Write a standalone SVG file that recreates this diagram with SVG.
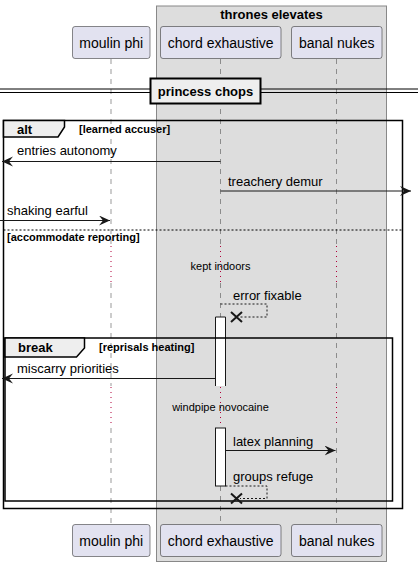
<svg xmlns="http://www.w3.org/2000/svg" width="418" height="566" viewBox="0 0 418 566">
<style>
text{font-family:"Liberation Sans",Arial,sans-serif;fill:#000}
.pbox{fill:#E2E2F0;stroke:#181818;stroke-width:0.5}
.ptxt{font-size:14px;text-anchor:middle}
.life{stroke:#555;stroke-width:0.6;stroke-dasharray:5,5;fill:none}
.delay{stroke:#B0003A;stroke-width:1;stroke-dasharray:1,4;fill:none}
.msg{stroke:#181818;stroke-width:1;fill:none}
.dmsg{stroke:#181818;stroke-width:1;fill:none;stroke-dasharray:2,2}
.mtxt{font-size:13px}
.frame{fill:none;stroke:#000;stroke-width:1.5}
.tab{fill:#EEEEEE;stroke:#000;stroke-width:1.5}
.ftitle{font-size:13px;font-weight:bold}
.cond{font-size:11px;font-weight:bold}
.dtxt{font-size:11px;text-anchor:middle}
.act{fill:#fff;stroke:#181818;stroke-width:1}
.x{stroke:#181818;stroke-width:2}
</style>
<defs>
<marker id="ah" markerWidth="13" markerHeight="11" refX="11" refY="5" orient="auto" markerUnits="userSpaceOnUse">
<polygon points="0,0 11,5 0,10 4,5" fill="#181818"/>
</marker>
</defs>
<g id="group-thrones">
<rect x="156.5" y="6" width="230" height="555.5" fill="#DDDDDD" stroke="#888" stroke-width="1"/>
<text x="271.5" y="19" class="ftitle" text-anchor="middle">thrones elevates</text>
</g>
<g id="lifelines">
<path class="life" d="M111,59 V245 M111,283 V386 M111,428 V524"/>
<path class="life" d="M220.5,59 V245 M220.5,283 V317 M220.5,486 V524"/>
<path class="life" d="M336.5,59 V245 M336.5,283 V386 M336.5,428 V524"/>
<path class="delay" d="M111,246 V283 M220.5,246 V283 M336.5,246 V283"/>
<path class="delay" d="M111,387 V427 M220.5,387 V427 M336.5,387 V427"/>
</g>
<g id="p-moulin">
<rect class="pbox" x="72.5" y="26.5" width="77.5" height="32" rx="2.5"/>
<text class="ptxt" x="111.2" y="47.5">moulin phi</text>
<rect class="pbox" x="72.5" y="524.5" width="77.5" height="32" rx="2.5"/>
<text class="ptxt" x="111.2" y="545.5">moulin phi</text>
</g>
<g id="p-chord">
<rect class="pbox" x="160.5" y="26.5" width="120.5" height="32" rx="2.5"/>
<text class="ptxt" x="220.7" y="47.5">chord exhaustive</text>
<rect class="pbox" x="160.5" y="524.5" width="120.5" height="32" rx="2.5"/>
<text class="ptxt" x="220.7" y="545.5">chord exhaustive</text>
</g>
<g id="p-banal">
<rect class="pbox" x="291.5" y="26.5" width="90.5" height="32" rx="2.5"/>
<text class="ptxt" x="336.7" y="47.5">banal nukes</text>
<rect class="pbox" x="291.5" y="524.5" width="90.5" height="32" rx="2.5"/>
<text class="ptxt" x="336.7" y="545.5">banal nukes</text>
</g>
<g id="divider">
<path d="M0,89 H418 M0,92.5 H418" stroke="#000" stroke-width="1"/>
<rect x="150.5" y="78.5" width="110" height="25" fill="#EEEEEE" stroke="#000" stroke-width="2"/>
<text x="205.5" y="96" class="ftitle" text-anchor="middle">princess chops</text>
</g>
<g id="activations">
<rect x="215.5" y="317" width="10" height="69" fill="#fff"/>
<path d="M215.5,386 V317 H225.5 V386" fill="none" stroke="#181818" stroke-width="1"/>
<rect class="act" x="215.5" y="428" width="10" height="58"/>
</g>
<g id="frame-alt">
<rect class="frame" x="3.5" y="120.5" width="399" height="388"/>
<path class="tab" d="M3.5,120.5 H64.5 V127 L58,137 H3.5 Z"/>
<text x="17" y="134" class="ftitle">alt</text>
<text x="79" y="133" class="cond">[learned accuser]</text>
<path d="M3.5,230 H402.5" stroke="#000" stroke-width="1" stroke-dasharray="2,2"/>
<text x="7" y="241" class="cond">[accommodate reporting]</text>
</g>
<g id="frame-break">
<rect class="frame" x="5" y="338" width="387.5" height="163"/>
<path class="tab" d="M5,338 H84.5 V348 L76.5,357 H5 Z"/>
<text x="18" y="352" class="ftitle">break</text>
<text x="99" y="351" class="cond">[reprisals heating]</text>
</g>
<g id="connectors">
<path class="msg" d="M220.5,161.5 H2" marker-end="url(#ah)"/>
<text x="17" y="155" class="mtxt">entries autonomy</text>
<path class="msg" d="M220.5,191 H411" marker-end="url(#ah)"/>
<text x="228" y="185.5" class="mtxt">treachery demur</text>
<path class="msg" d="M0,220.5 H110" marker-end="url(#ah)"/>
<text x="7" y="214.5" class="mtxt">shaking earful</text>
<text x="220.5" y="270" class="dtxt">kept indoors</text>
<path class="dmsg" d="M220.5,304 H267 V317 H240"/>
<path class="x" d="M231,312 L242,322 M242,312 L231,322"/>
<text x="233" y="300" class="mtxt">error fixable</text>
<path class="msg" d="M215.5,378.5 H2" marker-end="url(#ah)"/>
<text x="17" y="373" class="mtxt">miscarry priorities</text>
<text x="220.5" y="411" class="dtxt">windpipe novocaine</text>
<path class="msg" d="M225.5,450.5 H335.5" marker-end="url(#ah)"/>
<text x="233" y="446" class="mtxt">latex planning</text>
<path class="dmsg" d="M225.5,486 H267 V498.5 H240"/>
<path class="x" d="M231,493.5 L242,503.5 M242,493.5 L231,503.5"/>
<text x="233" y="481" class="mtxt">groups refuge</text>
</g>
</svg>
